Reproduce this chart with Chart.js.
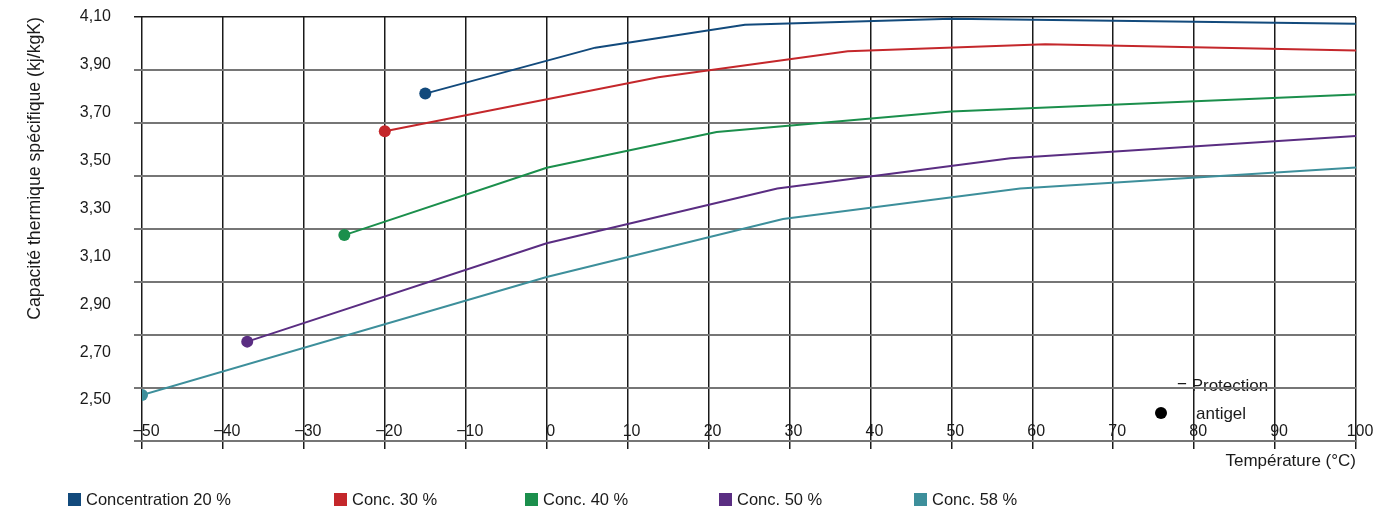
<!DOCTYPE html>
<html lang="fr">
<head>
<meta charset="utf-8">
<title>Capacité thermique spécifique</title>
<script src="https://cdn.jsdelivr.net/npm/chart.js@4.4.1/dist/chart.umd.min.js"></script>
<style>
  html, body { margin: 0; padding: 0; background: #fff; }
  #wrap { position: relative; width: 1392px; height: 512px; overflow: hidden; }
  #chart { position: absolute; left: 0; top: 0; }
  #legend { position: absolute; left: 0; top: 489px; width: 1392px; height: 20px;
            font: 16.5px "Liberation Sans", Arial, sans-serif; color: #1a1a1a; }
  .item { position: absolute; top: 0; height: 20px; display: flex; align-items: center; white-space: nowrap; }
  .swatch { width: 13px; height: 13px; margin-right: 5px; flex: none; }
</style>
</head>
<body>
<div id="wrap">
  <canvas id="chart" width="1392" height="512"></canvas>
  <div id="legend"></div>
</div>
<script>
// Series: specific heat capacity of the glycol mixture vs. temperature
const seriesNames = ['Concentration 20 %', 'Conc. 30 %', 'Conc. 40 %', 'Conc. 50 %', 'Conc. 58 %'];
const seriesColors = ['#124a7c', '#c4272b', '#1b8f4c', '#5a2d82', '#3d8f9b'];

// Temperatures (°C) of each curve's vertices; first vertex = frost protection limit
const temp20 = [-15, 6, 24.5, 50, 100];
const temp30 = [-20, 13.8, 37.2, 61.6, 100];
const temp40 = [-25, 0, 21, 50, 100];
const temp50 = [-37, 0, 28.5, 57.3, 100];
const temp58 = [-50, 0, 29.2, 58.5, 100];

// Specific heat capacity (kJ/kgK)
const cp20 = [3.78, 3.972, 4.068, 4.093, 4.072];
const cp30 = [3.623, 3.848, 3.957, 3.986, 3.960];
const cp40 = [3.189, 3.470, 3.620, 3.705, 3.776];
const cp50 = [2.744, 3.155, 3.384, 3.510, 3.603];
const cp58 = [2.521, 3.014, 3.256, 3.384, 3.471];

// Axis ticks
const xTicks = [-50, -40, -30, -20, -10, 0, 10, 20, 30, 40, 50, 60, 70, 80, 90, 100];
const yTicks = [4.10, 3.90, 3.70, 3.50, 3.30, 3.10, 2.90, 2.70, 2.50];

const temps = [temp20, temp30, temp40, temp50, temp58];
const values = [cp20, cp30, cp40, cp50, cp58];

const FONT = '"Liberation Sans", Arial, sans-serif';
const INK = '#1a1a1a';
Chart.defaults.font.family = FONT;
Chart.defaults.color = INK;

const fmtX = v => (v < 0 ? '\u2212' + Math.abs(v) : String(v));
const fmtY = v => Number(v).toFixed(2).replace('.', ',');
const isTop = c => c.tick && Math.abs(c.tick.value - 4.1) < 1e-6;

const datasets = seriesNames.map((name, i) => ({
  label: name,
  data: temps[i].map((t, j) => ({ x: t, y: values[i][j] })),
  borderColor: seriesColors[i],
  backgroundColor: seriesColors[i],
  borderWidth: 2,
  tension: 0,
  pointRadius: ctx => (ctx.dataIndex === 0 ? 6 : 0),
  pointHoverRadius: ctx => (ctx.dataIndex === 0 ? 6 : 0),
  pointBorderWidth: 0,
  xAxisID: 'x',
  yAxisID: 'y'
}));

// Key for the dots: "= Protection antigel", drawn beneath the grid
const protectionKey = {
  id: 'protectionKey',
  beforeDraw(chart) {
    const { ctx, chartArea: ca } = chart;
    ctx.save();
    ctx.fillStyle = '#000';
    ctx.beginPath();
    ctx.arc(ca.right - 195, ca.bottom - 28, 6, 0, Math.PI * 2);
    ctx.fill();
    ctx.fillStyle = INK;
    ctx.font = '17px ' + FONT;
    ctx.textAlign = 'left';
    ctx.textBaseline = 'alphabetic';
    ctx.fillText('= Protection', ca.right - 179, ca.bottom - 50);
    ctx.fillText('antigel', ca.right - 160, ca.bottom - 22);
    ctx.restore();
  }
};

new Chart(document.getElementById('chart'), {
  type: 'line',
  data: { datasets },
  plugins: [protectionKey],
  options: {
    responsive: false,
    devicePixelRatio: 1,
    animation: false,
    events: [],
    layout: { padding: { left: 24, top: 17, right: 36, bottom: 40 } },
    plugins: { legend: { display: false }, tooltip: { enabled: false } },
    scales: {
      x: {
        type: 'linear',
        position: 'bottom',
        weight: 0,
        min: -50,
        max: 100,
        afterBuildTicks: s => { s.ticks = xTicks.map(v => ({ value: v })); },
        grid: { color: INK, lineWidth: 1.5, drawTicks: true, tickLength: 8, tickColor: INK, tickWidth: 1.5 },
        border: { display: false },
        ticks: { autoSkip: false, maxRotation: 0, minRotation: 0, mirror: true, padding: 0, labelOffset: 4,
                 font: { size: 16 }, color: INK, callback: v => fmtX(v) },
        title: { display: true, text: 'Température (°C)', align: 'end', color: INK,
                 font: { size: 17 }, padding: 0 },
        afterFit: s => { s.height = 31; }
      },
      y: {
        type: 'linear',
        position: 'left',
        weight: 1,
        min: 2.3289,
        max: 4.10,
        afterBuildTicks: s => { s.ticks = yTicks.map(v => ({ value: v })); },
        grid: { display: false, drawTicks: false },
        border: { display: false },
        ticks: { padding: 0, font: { size: 16 }, color: INK, callback: v => fmtY(v) },
        title: { display: true, text: 'Capacité thermique spécifique (kj/kgK)', align: 'end', color: INK,
                 font: { size: 17.7 }, padding: 0 },
        afterFit: s => { s.width = 87; }
      },
      yGrid: {
        type: 'linear',
        position: 'left',
        weight: 0,
        min: 2.5,
        max: 4.1,
        afterBuildTicks: s => { s.ticks = yTicks.map(v => ({ value: v })); },
        grid: {
          color: c => (isTop(c) ? INK : '#767676'),
          lineWidth: c => (isTop(c) ? 1.5 : 2),
          drawTicks: true, tickLength: 8
        },
        border: { display: false },
        ticks: { display: false },
        afterFit: s => { s.width = 31; }
      }
    }
  }
});

// Legend row beneath the plot
const legend = document.getElementById('legend');
const legendLeft = [68, 334, 525, 719, 914];
seriesNames.forEach((name, i) => {
  const item = document.createElement('div');
  item.className = 'item';
  item.style.left = legendLeft[i] + 'px';
  const sw = document.createElement('span');
  sw.className = 'swatch';
  sw.style.background = seriesColors[i];
  const label = document.createElement('span');
  label.textContent = name;
  item.appendChild(sw);
  item.appendChild(label);
  legend.appendChild(item);
});
</script>
</body>
</html>
